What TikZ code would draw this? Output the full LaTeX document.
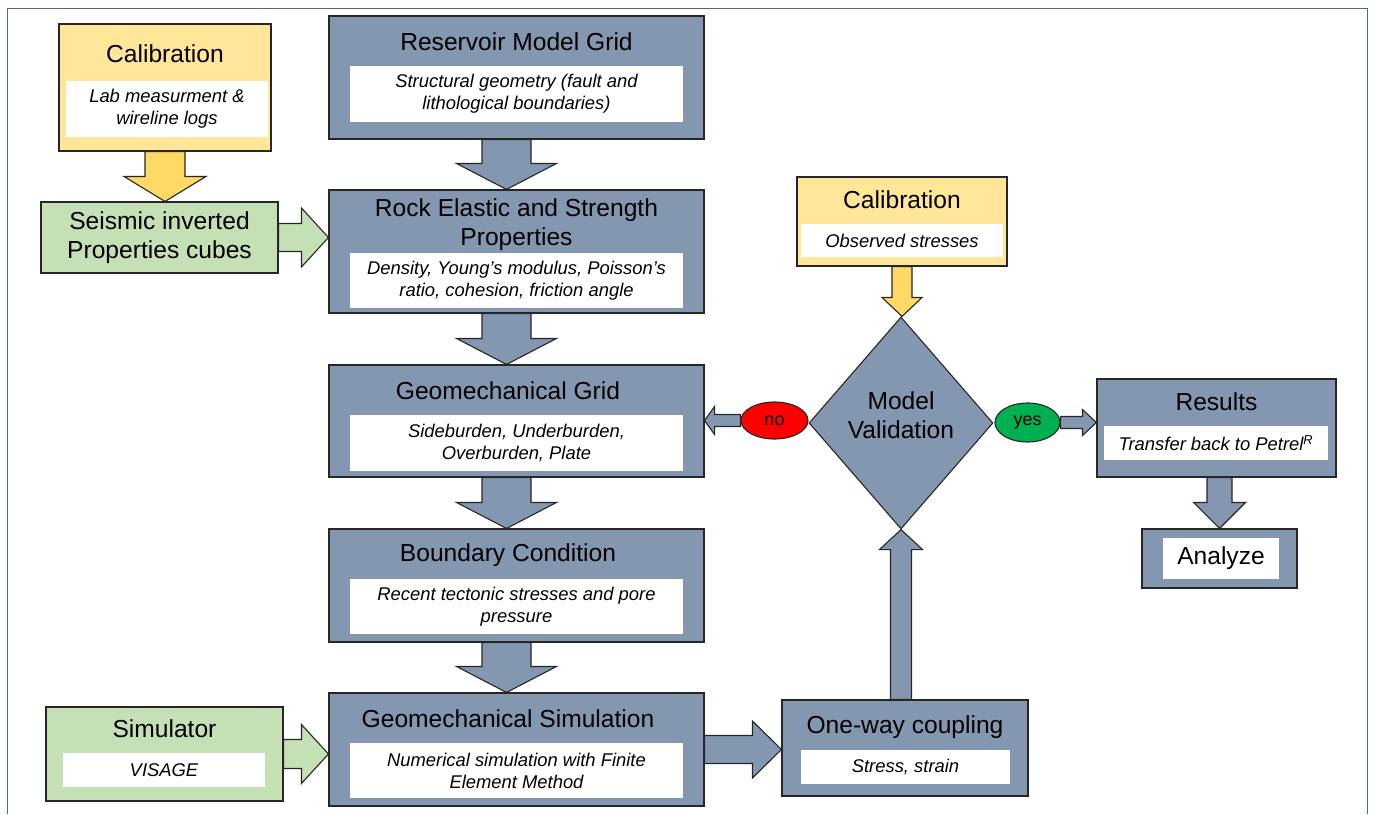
\documentclass[tikz,border=0pt]{standalone}
\usepackage{fontspec}
\setmainfont{Liberation Sans}
\usetikzlibrary{shapes.geometric,calc}

\definecolor{bluegrey}{HTML}{8497B0}
\definecolor{calyellow}{HTML}{FFE699}
\definecolor{arrowyellow}{HTML}{FFD966}
\definecolor{inputgreen}{HTML}{C5E0B4}
\definecolor{nored}{HTML}{FF0000}
\definecolor{yesgreen}{HTML}{00B050}
\definecolor{framecol}{HTML}{4A6A8A}

\newcommand{\titlefont}{\fontsize{24.6}{29}\selectfont}
\newcommand{\subfont}{\fontsize{18.4}{22}\selectfont\itshape}
\newcommand{\tagfont}{\fontsize{18}{20}\selectfont}

\tikzset{
  edgeline/.style={draw=black!85, line width=1.1pt},
  panel/.style={edgeline, rectangle, inner sep=0pt},
  bluepanel/.style={panel, fill=bluegrey},
  yellowpanel/.style={panel, fill=calyellow},
  greenpanel/.style={panel, fill=inputgreen},
  whitepanel/.style={rectangle, fill=white, inner sep=0pt, align=center, font=\subfont},
  heading/.style={inner sep=0pt, align=center, font=\titlefont},
  tag/.style={ellipse, edgeline, inner sep=0pt, font=\tagfont},
  blockarrow/.style={edgeline, fill=bluegrey},
  yellowarrow/.style={edgeline, fill=arrowyellow},
  greenarrow/.style={edgeline, fill=inputgreen},
}

% block arrows: [style]{from}{tip}{half shaft}{half head}{head length}
\newcommand{\vblock}[6][blockarrow]{%
  \path[#1] let \p1=(#2), \p2=(#3), \p3=($(#3)!#6!(#2)$) in
    (\x2-#4,\y1) -- (\x2-#4,\y3) -- (\x2-#5,\y3) -- (\x2,\y2)
    -- (\x2+#5,\y3) -- (\x2+#4,\y3) -- (\x2+#4,\y1) -- cycle;}
\newcommand{\hblock}[6][blockarrow]{%
  \path[#1] let \p1=(#2), \p2=(#3), \p3=($(#3)!#6!(#2)$) in
    (\x1,\y2-#4) -- (\x3,\y2-#4) -- (\x3,\y2-#5) -- (\x2,\y2)
    -- (\x3,\y2+#5) -- (\x3,\y2+#4) -- (\x1,\y2+#4) -- cycle;}

\begin{document}
\begin{tikzpicture}[x=1pt, y=-1pt]
  \useasboundingbox (0,0) rectangle (1373,814);
  \draw[framecol, line width=1pt] (7,814) -- (7,8) -- (1367,8) -- (1367,814);

  % main column
  \node[bluepanel, minimum width=375pt, minimum height=123pt] (res) at (516.5,77.5) {};
  \node[heading] (res-title) at (516.5,42) {Reservoir Model Grid};
  \node[whitepanel, minimum width=333pt, minimum height=56pt] (res-sub) at (516.5,94) {Structural geometry (fault and\\lithological boundaries)};

  \node[bluepanel, minimum width=375pt, minimum height=123pt] (rock) at (516.5,251.5) {};
  \node[heading] (rock-title) at (516.5,224.5) {Rock Elastic and Strength\\Properties};
  \node[whitepanel, minimum width=333pt, minimum height=55pt] (rock-sub) at (516.5,280.5) {Density, Young's modulus, Poisson's\\ratio, cohesion, friction angle};

  \node[bluepanel, minimum width=375pt, minimum height=112pt] (ggrid) at (516.5,421) {};
  \node[heading] (ggrid-title) at (508,391) {Geomechanical Grid};
  \node[whitepanel, minimum width=333pt, minimum height=56pt] (ggrid-sub) at (516.5,443) {Sideburden, Underburden,\\Overburden, Plate};

  \node[bluepanel, minimum width=375pt, minimum height=113pt] (bc) at (516.5,585.5) {};
  \node[heading] (bc-title) at (508,555) {Boundary Condition};
  \node[whitepanel, minimum width=333pt, minimum height=55pt] (bc-sub) at (516.5,606.5) {Recent tectonic stresses and pore\\pressure};

  \node[bluepanel, minimum width=375pt, minimum height=113pt] (gsim) at (516.5,749.5) {};
  \node[heading] (gsim-title) at (508,719) {Geomechanical Simulation};
  \node[whitepanel, minimum width=333pt, minimum height=55pt] (gsim-sub) at (516.5,770.5) {Numerical simulation with Finite\\Element Method};

  % inputs on the left
  \node[yellowpanel, minimum width=212pt, minimum height=127pt] (cal1) at (165,87.5) {};
  \node[heading] (cal1-title) at (165,54) {Calibration};
  \node[whitepanel, minimum width=202pt, minimum height=56pt] (cal1-sub) at (167,109) {Lab measurment \&\\wireline logs};

  \node[greenpanel, minimum width=237pt, minimum height=71pt, align=center, font=\titlefont] (seis) at (159.5,237.5) {Seismic inverted\\Properties cubes};

  \node[greenpanel, minimum width=237pt, minimum height=94pt] (sim) at (164.5,754) {};
  \node[heading] (sim-title) at (164.5,729) {Simulator};
  \node[whitepanel, minimum width=202pt, minimum height=34pt] (sim-sub) at (164,770) {VISAGE};

  % validation loop
  \node[yellowpanel, minimum width=210pt, minimum height=89pt] (cal2) at (902,221.5) {};
  \node[heading] (cal2-title) at (902,200) {Calibration};
  \node[whitepanel, minimum width=202pt, minimum height=33pt] (cal2-sub) at (902,240.5) {Observed stresses};

  \node[diamond, edgeline, fill=bluegrey, inner sep=0pt, minimum width=184pt, minimum height=212pt] (mv) at (901,423) {};
  \node[heading] (mv-title) at (901,415) {Model\\Validation};

  \node[tag, fill=nored, minimum width=67pt, minimum height=37pt] (no) at (774.5,420.5) {no};
  \node[tag, fill=yesgreen, minimum width=65pt, minimum height=39pt] (yes) at (1027.5,422.5) {yes};

  \node[bluepanel, minimum width=239pt, minimum height=98pt] (results) at (1216.5,428) {};
  \node[heading] (results-title) at (1216.5,402) {Results};
  \node[whitepanel, minimum width=224pt, minimum height=34pt] (results-sub) at (1216,443) {Transfer back to Petrel\textsuperscript{R}};

  \node[bluepanel, minimum width=155pt, minimum height=59pt] (analyze) at (1219.5,558.5) {};
  \node[whitepanel, minimum width=116pt, minimum height=41pt, font=\titlefont] (analyze-sub) at (1221,558.5) {Analyze};

  \node[bluepanel, minimum width=246pt, minimum height=96pt] (oneway) at (905,748) {};
  \node[heading] (oneway-title) at (905,727) {One-way coupling};
  \node[whitepanel, minimum width=209pt, minimum height=34pt] (oneway-sub) at (905.5,767) {Stress, strain};

  % arrows
  \vblock{[xshift=-10pt]res.south}{[xshift=-10pt]rock.north}{24.5pt}{50pt}{26pt}
  \vblock{[xshift=-10pt]rock.south}{[xshift=-10pt]ggrid.north}{24.5pt}{50pt}{26pt}
  \vblock{[xshift=-10pt]ggrid.south}{[xshift=-10pt]bc.north}{24.5pt}{50pt}{26pt}
  \vblock{[xshift=-10pt]bc.south}{[xshift=-10pt]gsim.north}{24.5pt}{50pt}{26pt}
  \vblock[yellowarrow]{cal1.south}{cal1.south |- seis.north}{20pt}{41pt}{25pt}
  \hblock[greenarrow]{seis.east}{seis.east -| rock.west}{14pt}{29.5pt}{27pt}
  \hblock[greenarrow]{sim.east}{sim.east -| gsim.west}{14.5pt}{29.5pt}{27pt}
  \hblock{gsim.east}{gsim.east -| oneway.west}{14pt}{28.5pt}{29pt}
  \vblock{mv.south |- oneway.north}{mv.south}{10.5pt}{21.5pt}{20pt}
  \vblock[yellowarrow]{cal2.south}{cal2.south |- mv.north}{10pt}{20pt}{19pt}
  \hblock{no.west}{no.west -| ggrid.east}{6pt}{14pt}{10pt}
  \hblock{yes.east}{yes.east -| results.west}{6pt}{13pt}{14pt}
  \vblock{analyze.north |- results.south}{analyze.north}{12.5pt}{26pt}{26pt}
\end{tikzpicture}
\end{document}
